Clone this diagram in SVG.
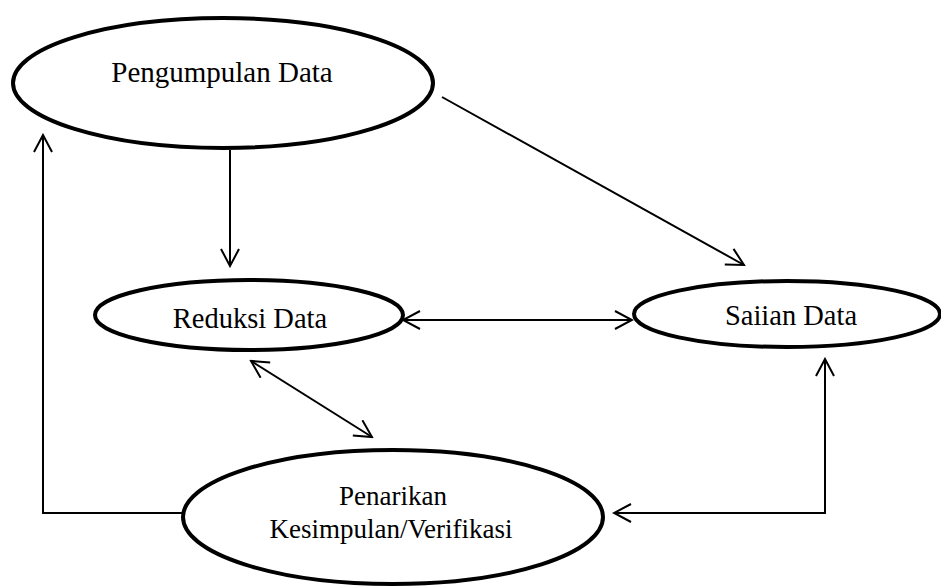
<svg xmlns="http://www.w3.org/2000/svg" width="941" height="588" viewBox="0 0 941 588">
<defs>
<style>
.node ellipse{fill:#fff;stroke:#000;stroke-width:4}
.lbl{font-family:"Liberation Serif","Times New Roman",serif;fill:#000;text-anchor:middle}
.conn{fill:none;stroke:#000;stroke-width:2}
</style>
<marker id="arr" viewBox="0 0 20 20" refX="18" refY="10" markerWidth="20" markerHeight="20" markerUnits="userSpaceOnUse" orient="auto-start-reverse">
<path d="M1,1 L18,10 L1,19" fill="none" stroke="#000" stroke-width="2"/>
</marker>
</defs>
<rect width="941" height="588" fill="#fff"/>
<g id="connectors">
<line class="conn" x1="230" y1="150" x2="230" y2="266" marker-end="url(#arr)"/>
<line class="conn" x1="442" y1="97" x2="744" y2="265" marker-end="url(#arr)"/>
<line class="conn" x1="403" y1="320" x2="632" y2="320" marker-start="url(#arr)" marker-end="url(#arr)"/>
<line class="conn" x1="251" y1="361" x2="372" y2="437" marker-start="url(#arr)" marker-end="url(#arr)"/>
<polyline class="conn" points="825,359 825,513 614,513" marker-start="url(#arr)" marker-end="url(#arr)"/>
<polyline class="conn" points="183,513 43,513 43,135" marker-end="url(#arr)"/>
</g>
<g id="pengumpulan" class="node">
<ellipse cx="223" cy="83" rx="210" ry="65"/>
<text class="lbl" x="222" y="82" font-size="29">Pengumpulan Data</text>
</g>
<g id="reduksi" class="node">
<ellipse cx="249" cy="315" rx="154" ry="35"/>
<text class="lbl" x="250" y="328" font-size="28.5">Reduksi Data</text>
</g>
<g id="sajian" class="node">
<ellipse cx="787" cy="314" rx="153" ry="33"/>
<text class="lbl" x="791" y="325" font-size="28.5">Saiian Data</text>
</g>
<g id="penarikan" class="node">
<ellipse cx="393" cy="517" rx="210" ry="67"/>
<text class="lbl" x="393" y="505" font-size="27">Penarikan</text>
<text class="lbl" x="391" y="538" font-size="27">Kesimpulan/Verifikasi</text>
</g>
</svg>
